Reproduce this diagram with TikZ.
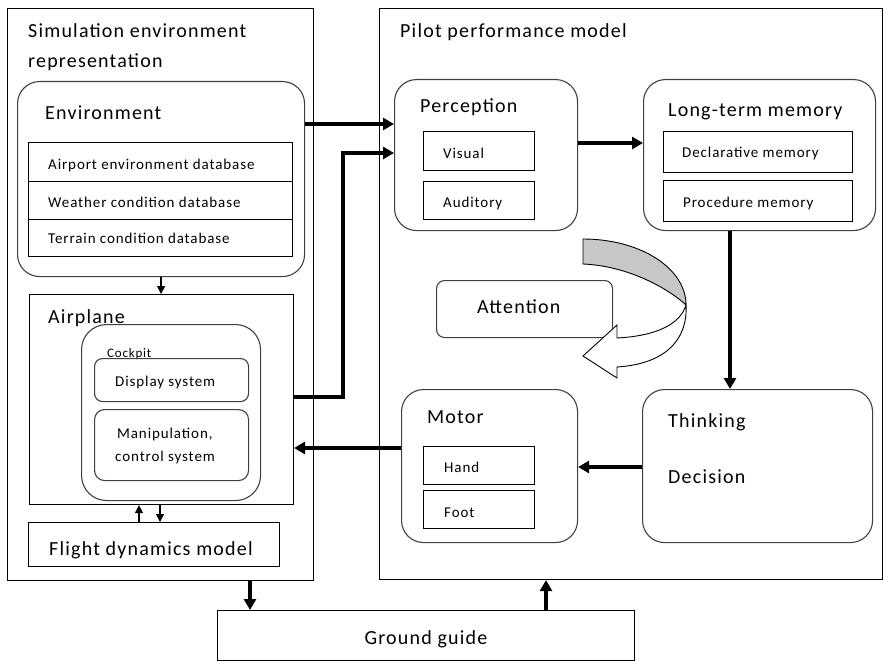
\documentclass[tikz,border=0pt]{standalone}
\usepackage{fontspec}
\setmainfont{Carlito}[LetterSpace=6]
\usetikzlibrary{arrows.meta}

\begin{document}
\begin{tikzpicture}[x=1pt,y=-1pt,
  box/.style={draw,line width=1.1pt,inner sep=0pt,anchor=north west},
  rbox/.style={box,rounded corners=22pt,draw=black!75},
  sbox/.style={box,rounded corners=8pt,draw=black!75},
  big/.style={inner sep=0pt,anchor=base west,font=\fontsize{20}{24}\selectfont},
  small/.style={inner sep=0pt,anchor=base west,font=\fontsize{15}{18}\selectfont},
  conn/.style={line width=3.5pt,-{Triangle[length=11pt,width=12pt]}},
  thin/.style={line width=1.2pt,-{Triangle[length=8pt,width=8pt]}}]

\useasboundingbox (0,0) rectangle (884,661);

% simulation side
\node[box,minimum width=306,minimum height=572] (sim) at (7,8) {};
\node[big] (simlbl) at (28,38) {Simulation environment};
\node[big] (simlbl2) at (28,68) {representation};

\node[rbox,minimum width=287,minimum height=195] (env) at (17,81) {};
\node[big] (envlbl) at (45,119) {Environment};
\node[box,minimum width=264,minimum height=39] (airport) at (28,142) {};
\node[box,minimum width=264,minimum height=38] (weather) at (28,181) {};
\node[box,minimum width=264,minimum height=37] (terrain) at (28,219) {};
\node[small] at (48,169) (airportlbl) {Airport environment database};
\node[small] at (48,207) (weatherlbl) {Weather condition database};
\node[small] at (48,243) (terrainlbl) {Terrain condition database};

\node[box,minimum width=264,minimum height=210] (airplane) at (29,294) {};
\node[big] (airplanelbl) at (48,323) {Airplane};
\node[rbox,rounded corners=25pt,minimum width=179,minimum height=176] (cockpit) at (81,324) {};
\node[small,font=\fontsize{13}{16}\selectfont] (cockpitlbl) at (107,357) {Cockpit};
\node[sbox,minimum width=154,minimum height=43] (display) at (94,358) {};
\node[sbox,rounded corners=10pt,minimum width=154,minimum height=71] (manip) at (94,409) {};
\node[small] (displaylbl) at (115,386) {Display system};
\node[small] (maniplbl) at (117,438) {Manipulation,};
\node[small] (maniplbl2) at (115,461) {control system};

\node[box,minimum width=251,minimum height=44] (fdm) at (28,522) {};
\node[big] (fdmlbl) at (49,555) {Flight dynamics model};

\node[box,minimum width=417,minimum height=50] (ground) at (217,610) {};
\node[big,anchor=base] (groundlbl) at (426,644) {Ground guide};

% pilot side
\node[box,minimum width=503,minimum height=571] (pilot) at (379,8) {};
\node[big] (pilotlbl) at (400,38) {Pilot performance model};

\node[rbox,minimum width=183,minimum height=151] (percep) at (394,79) {};
\node[big] (perceplbl) at (420,112) {Perception};
\node[box,minimum width=111,minimum height=39] (visual) at (423,131) {};
\node[box,minimum width=111,minimum height=38] (auditory) at (423,181) {};
\node[small] (visuallbl) at (443,158) {Visual};
\node[small] (auditorylbl) at (443,207) {Auditory};

\node[rbox,minimum width=232,minimum height=151] (ltm) at (643,79) {};
\node[big] (ltmlbl) at (668,117) {Long-term memory};
\node[box,minimum width=189,minimum height=41] (decl) at (663,131) {};
\node[box,minimum width=189,minimum height=41] (proc) at (663,180) {};
\node[small] (decllbl) at (682,157) {Declarative memory};
\node[small] (proclbl) at (683,207) {Procedure memory};

\node[sbox,minimum width=176,minimum height=57] (attn) at (436,280) {};
\node[big] (attnlbl) at (477,313) {Attention};

\node[rbox,minimum width=176,minimum height=153] (motor) at (401,389) {};
\node[big] (motorlbl) at (427,423) {Motor};
\node[box,minimum width=111,minimum height=38] (hand) at (423,446) {};
\node[box,minimum width=111,minimum height=38] (foot) at (423,490) {};
\node[small] (handlbl) at (444,472) {Hand};
\node[small] (footlbl) at (444,517) {Foot};

\node[rbox,minimum width=230,minimum height=153] (think) at (642,389) {};
\node[big] (thinklbl) at (668,427) {Thinking};
\node[big] (decisionlbl) at (668,483) {Decision};

% attention arrow
\filldraw[fill=black!22,line width=0.9pt]
  (583,239) .. controls (640,239) and (686,268) .. (686,305)
  .. controls (670,290) and (630,266) .. (583,264) -- cycle;
\filldraw[fill=white,line width=0.9pt]
  (686,305) .. controls (680,325) and (655,336) .. (617,338)
  -- (617,325) -- (583,356) -- (617,378) -- (617,367)
  .. controls (665,364) and (688,340) .. (686,305) -- cycle;

% connectors
\draw[conn] (env.east |- 0,124) -- (percep.west |- 0,124);
\draw[conn] (airplane.east |- 0,397) -| (343,153) -- (percep.west |- 0,153);
\draw[conn] (percep.east |- 0,143) -- (ltm.west |- 0,143);
\draw[conn] (ltm.south -| 730,0) -- (think.north -| 730,0);
\draw[conn] (think.west |- 0,467) -- (motor.east |- 0,467);
\draw[conn] (motor.west |- 0,448) -- (airplane.east |- 0,448);
\draw[conn] (sim.south -| 250,0) -- (ground.north -| 250,0);
\draw[conn] (ground.north -| 546,0) -- (pilot.south -| 546,0);

\draw[thin] (env.south) -- (airplane.north -| env.south);
\draw[thin] (fdm.north -| 139,0) -- (airplane.south -| 139,0);
\draw[thin] (airplane.south -| 160,0) -- (fdm.north -| 160,0);

\end{tikzpicture}
\end{document}
